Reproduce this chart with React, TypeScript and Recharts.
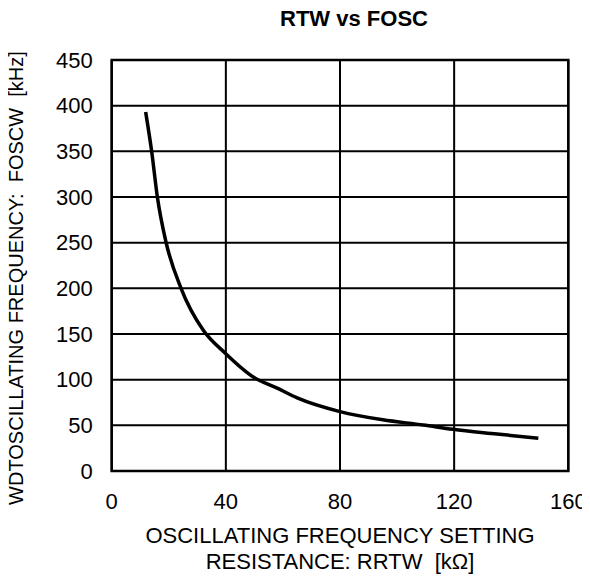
import React from 'react';
import { LineChart, Line, XAxis, YAxis, CartesianGrid, ReferenceArea, Customized } from 'recharts';

const resistance = [11.9, 14, 16, 19, 24.3, 32.1, 39.8, 49.6, 57.8, 65, 80, 95, 109.2, 119.5, 135, 149.5];
const frequency = [393, 350, 300, 251, 200, 154, 129, 103, 91, 80, 65, 56, 50.4, 45.7, 40.5, 35.8];
const xTicks = [0, 40, 80, 120, 160];
const yTicks = [0, 50, 100, 150, 200, 250, 300, 350, 400, 450];

const title = 'RTW vs FOSC';
const yLabel = 'WDTOSCILLATING FREQUENCY:  FOSCW  [kHz]';
const xLabel1 = 'OSCILLATING FREQUENCY SETTING';
const xLabel2 = 'RESISTANCE: RRTW  [kΩ]';

const data = resistance.map((r, i) => ({ r, f: frequency[i] }));

const FONT = '"Liberation Sans", Arial, sans-serif';

const Texts = () => (
  <g fontFamily={FONT} fill="#000">
    <text x={354} y={26} textAnchor="middle" fontSize={22} fontWeight="bold">{title}</text>
    <text x={22.5} y={278} textAnchor="middle" fontSize={20} transform="rotate(-90 22.5 278)" style={{ whiteSpace: 'pre' }}>{yLabel}</text>
    <text x={340} y={543} textAnchor="middle" fontSize={22}>{xLabel1}</text>
    <text x={340} y={568.5} textAnchor="middle" fontSize={22} style={{ whiteSpace: 'pre' }}>{xLabel2}</text>
  </g>
);

export default function App() {
  return (
    <div style={{ width: 590, height: 578, margin: '-8px 0 0 -8px' }}>
      <LineChart width={590} height={578} data={data} margin={{ top: 60, right: 21.7, left: 0, bottom: 0 }}>
        <CartesianGrid stroke="#000" strokeWidth={2} strokeOpacity={1} />
        <XAxis
          type="number"
          dataKey="r"
          domain={[0, 160]}
          ticks={xTicks}
          height={107}
          tickSize={0}
          tickMargin={22}
          axisLine={false}
          tickLine={false}
          tick={{ fill: '#000', fontSize: 22, fontFamily: FONT }}
          interval={0}
        />
        <YAxis
          type="number"
          dataKey="f"
          domain={[0, 450]}
          ticks={yTicks}
          width={111.7}
          tickSize={0}
          tickMargin={19}
          axisLine={false}
          tickLine={false}
          tick={{ fill: '#000', fontSize: 22, fontFamily: FONT }}
          interval={0}
        />
        <ReferenceArea x1={0} x2={160} y1={0} y2={450} fill="none" fillOpacity={0} stroke="#000" strokeWidth={2.5} ifOverflow="visible" />
        <Line
          type="monotone"
          dataKey="f"
          stroke="#000"
          strokeWidth={3.5}
          dot={false}
          activeDot={false}
          isAnimationActive={false}
        />
        <Customized component={Texts} />
      </LineChart>
    </div>
  );
}
